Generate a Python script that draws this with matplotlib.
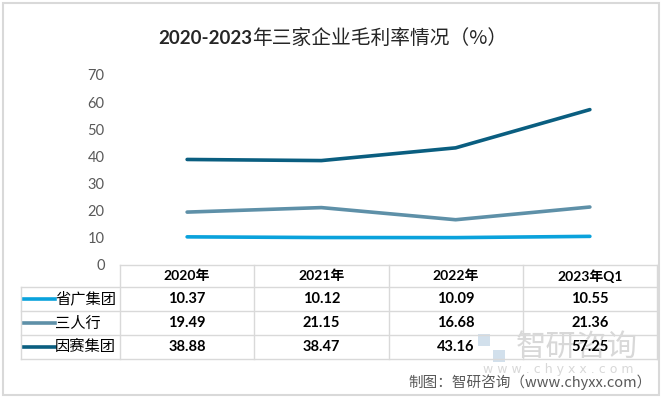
import matplotlib
matplotlib.use("Agg")
import matplotlib.pyplot as plt
from matplotlib.lines import Line2D
from matplotlib.patches import Rectangle

# data
periods = ["2020年", "2021年", "2022年", "2023年Q1"]
companies = ["省广集团", "三人行", "因赛集团"]
shengguang = [10.37, 10.12, 10.09, 10.55]
sanrenxing = [19.49, 21.15, 16.68, 21.36]
yinsai = [38.88, 38.47, 43.16, 57.25]
colors = ["#0AA2DC", "#5E90A8", "#0A5E80"]
yticks = [0, 10, 20, 30, 40, 50, 60, 70]

W, H = 663, 399
fig = plt.figure(figsize=(W / 100, H / 100), dpi=100)

def fx(x):
    return x / W

def fy(y):
    return 1 - y / H

latin_cjk = ["Lato", "Noto Sans CJK SC"]
cjk = ["Noto Sans CJK SC", "DejaVu Sans"]
grid_c = "#D9D9D9"

# outer border
fig.patches.append(Rectangle((fx(3), fy(395)), fx(656), 392 / H, transform=fig.transFigure,
                             fill=False, edgecolor="#D9D9D9", lw=1.5))

# plot area
left, right, top, bottom = 120, 657, 75, 265
ax = fig.add_axes([fx(left), fy(bottom), fx(right - left), (bottom - top) / H])
ax.set_facecolor("none")
series = [shengguang, sanrenxing, yinsai]
xs = range(len(periods))
for vals, c in zip(series, colors):
    ax.plot(xs, vals, color=c, lw=2.6, solid_capstyle="round")
ax.set_xlim(-0.5, len(periods) - 0.5)
ax.set_ylim(0, 70)
ax.set_yticks(yticks)
ax.set_yticklabels([str(t) for t in yticks], family="Lato", fontsize=10.5, color="#595959")
ax.tick_params(axis="y", length=0, pad=11)
ax.set_xticks([])
for s in ax.spines.values():
    s.set_visible(False)

# title: bold digits, then the Chinese part right after
t1 = fig.text(fx(158), fy(44), "2020-2023", family="Lato", fontweight="bold",
              fontsize=13.5, color="#262626", ha="left", va="baseline")
fig.canvas.draw()
bb = t1.get_window_extent()
fig.text(bb.x1 / fig.bbox.width, fy(44), "年三家企业毛利率情况（%）", family=cjk,
         fontsize=14.2, color="#262626", ha="left", va="baseline")

# data table
col_w = (right - left) / len(periods)
rows_y = [265, 287, 311, 335, 359]
tbl_left = 21
for i, y in enumerate(rows_y):
    x0 = left if i == 0 else tbl_left
    fig.add_artist(Line2D([fx(x0), fx(right)], [fy(y), fy(y)], color=grid_c, lw=1))
for j in range(len(periods) + 1):
    x = left + j * col_w
    fig.add_artist(Line2D([fx(x), fx(x)], [fy(265), fy(359)], color=grid_c, lw=1))
fig.add_artist(Line2D([fx(tbl_left), fx(tbl_left)], [fy(287), fy(359)], color=grid_c, lw=1))

for j, p in enumerate(periods):
    fig.text(fx(left + (j + 0.5) * col_w), fy(276), p, family=latin_cjk, fontweight="bold",
             fontsize=10, color="#000000", ha="center", va="center")

# watermark (behind the table text)
fig.text(fx(577), fy(347), "智研咨询", family=cjk, fontsize=22, color="#9E9E9E",
         alpha=0.4, ha="center", va="center", zorder=0)
fig.text(fx(558), fy(369), "w w w . c h y x x . c o m", family="DejaVu Sans", fontsize=9,
         color="#9E9E9E", alpha=0.4, ha="center", va="center", zorder=0)
fig.patches.append(Rectangle((fx(478), fy(346)), fx(12), 12 / H, transform=fig.transFigure,
                             facecolor="#7FA8C9", alpha=0.35, lw=0))
fig.patches.append(Rectangle((fx(493), fy(362)), fx(12), 12 / H, transform=fig.transFigure,
                             facecolor="#7FA8C9", alpha=0.35, lw=0))

for i, (name, vals, c) in enumerate(zip(companies, series, colors)):
    yc = (rows_y[i + 1] + rows_y[i + 2]) / 2
    fig.add_artist(Line2D([fx(24), fx(55)], [fy(yc), fy(yc)], color=c, lw=2.6))
    fig.text(fx(55), fy(yc), name, family=cjk, fontsize=11, color="#000000",
             ha="left", va="center")
    for j, v in enumerate(vals):
        fig.text(fx(left + (j + 0.5) * col_w), fy(yc), f"{v:.2f}", family="Lato",
                 fontweight="bold", fontsize=10.5, color="#000000", ha="center", va="center",
                 zorder=3)

# source
fig.text(fx(652), fy(382), "制图：智研咨询（www.chyxx.com）", family=cjk, fontsize=10.5,
         color="#595959", ha="right", va="center")

fig.savefig("out.png", dpi=100)
